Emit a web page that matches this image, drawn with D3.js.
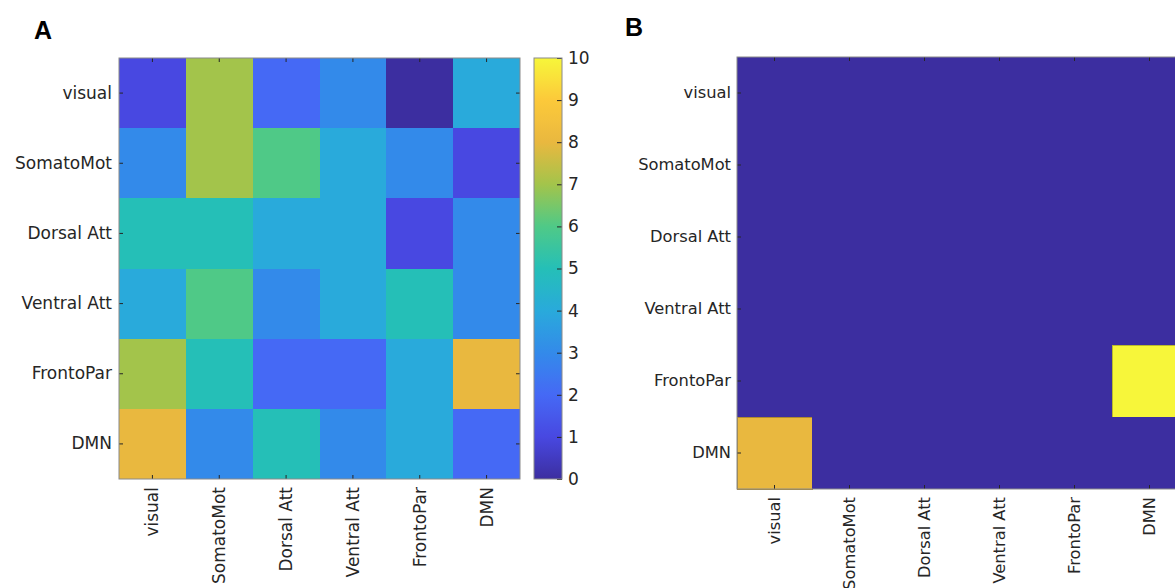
<!DOCTYPE html>
<html><head><meta charset="utf-8">
<script src="https://cdn.jsdelivr.net/npm/d3@7"></script>
<style>body{margin:0;background:#fff}svg{display:block}</style></head>
<body><svg id="c" width="1175" height="588"></svg>
<script>
const categories = ["visual", "SomatoMot", "Dorsal Att", "Ventral Att", "FrontoPar", "DMN"];
// rows = y categories (top to bottom), columns = x categories (left to right)
const valuesA = [
  [1, 7, 2, 3, 0, 4],
  [3, 7, 6, 4, 3, 1],
  [5, 5, 4, 4, 1, 3],
  [4, 6, 3, 4, 5, 3],
  [7, 5, 2, 2, 4, 8],
  [8, 3, 5, 3, 4, 2]
];
const valuesB = [
  [0, 0, 0, 0, 0, 0],
  [0, 0, 0, 0, 0, 0],
  [0, 0, 0, 0, 0, 0],
  [0, 0, 0, 0, 0, 0],
  [0, 0, 0, 0, 0, 10],
  [8, 0, 0, 0, 0, 0]
];
const colorTicks = [0, 1, 2, 3, 4, 5, 6, 7, 8, 9, 10];
// parula-like colour at each integer value 0..10
const parulaStops = ["#3c2ea0", "#4848e1", "#4569f5", "#338aea", "#29aadb", "#25bfb7",
                     "#4fc987", "#a3c44b", "#e9b83f", "#fcc93a", "#f7f63a"];

const svg = d3.select("#c");
svg.append("rect").attr("width", 1175).attr("height", 588).attr("fill", "#fff");
const color = d3.scaleLinear().domain(colorTicks).range(parulaStops).interpolate(d3.interpolateRgb);
const txt = "#262626";
const fontFam = "'DejaVu Sans', sans-serif";

function panel(cfg) {
  const g = svg.append("g");
  const x = d3.scaleBand().domain(categories).range([cfg.x0, cfg.x1]).padding(0);
  const y = d3.scaleBand().domain(categories).range([cfg.y0, cfg.y1]).padding(0);
  const cells = [];
  cfg.values.forEach((row, i) => row.forEach((v, j) => cells.push({r: categories[i], c: categories[j], v})));
  g.selectAll("rect.cell").data(cells).join("rect")
    .attr("class", "cell")
    .attr("x", d => x(d.c)).attr("y", d => y(d.r))
    .attr("width", x.bandwidth()).attr("height", y.bandwidth())
    .attr("fill", d => color(d.v))
    .attr("shape-rendering", "crispEdges")
    .attr("stroke", d => cfg.outline && d.v > 0 ? d3.color(color(d.v)).darker(0.8) : "none")
    .attr("stroke-width", 1);

  const styleAxis = (sel) => {
    sel.select(".domain").remove();
    sel.selectAll(".tick line").attr("stroke", txt);
    sel.selectAll(".tick text").attr("fill", txt).style("font-family", fontFam).style("font-size", cfg.font + "px");
  };
  g.append("g").attr("transform", `translate(${cfg.x0},0)`)
    .call(d3.axisLeft(y).tickSizeInner(-4).tickSizeOuter(0).tickPadding(cfg.pad)).call(styleAxis);
  g.append("g").attr("transform", `translate(${cfg.x1},0)`)
    .call(d3.axisRight(y).tickSizeInner(-4).tickSizeOuter(0).tickFormat("")).call(styleAxis);
  g.append("g").attr("transform", `translate(0,${cfg.y0})`)
    .call(d3.axisTop(x).tickSizeInner(-4).tickSizeOuter(0).tickFormat("")).call(styleAxis);
  const bx = g.append("g").attr("transform", `translate(0,${cfg.y1})`)
    .call(d3.axisBottom(x).tickSizeInner(-4).tickSizeOuter(0)).call(styleAxis);
  bx.selectAll(".tick text")
    .attr("transform", "rotate(-90)")
    .attr("text-anchor", "end")
    .attr("x", -8).attr("y", 0).attr("dy", "0.35em");

  g.append("rect").attr("x", cfg.x0).attr("y", cfg.y0)
    .attr("width", cfg.x1 - cfg.x0).attr("height", cfg.y1 - cfg.y0)
    .attr("fill", "none").attr("stroke", "#8a8a8a").attr("stroke-width", 1);

  svg.append("text").attr("x", cfg.lx).attr("y", cfg.ly).text(cfg.letter)
    .style("font-family", "'Liberation Sans', Arial, sans-serif").style("font-weight", "bold")
    .style("font-size", "25px").attr("fill", "#000");
}

panel({values: valuesA, x0: 119, x1: 520, y0: 58, y1: 479, font: 17, pad: 7, letter: "A", lx: 34, ly: 39, outline: false});
panel({values: valuesB, x0: 737, x1: 1187, y0: 57, y1: 489, font: 16.3, pad: 6, letter: "B", lx: 625, ly: 36, outline: true});

// colorbar
const cb = {x0: 534, x1: 562, y0: 58, y1: 479};
const yc = d3.scaleLinear().domain([0, 10]).range([cb.y1, cb.y0]);
const defs = svg.append("defs");
const grad = defs.append("linearGradient").attr("id", "cbgrad")
  .attr("x1", 0).attr("y1", 1).attr("x2", 0).attr("y2", 0);
grad.selectAll("stop").data(d3.range(0, 10.01, 0.25)).join("stop")
  .attr("offset", d => d / 10).attr("stop-color", d => color(d));
svg.append("rect").attr("x", cb.x0).attr("y", cb.y0)
  .attr("width", cb.x1 - cb.x0).attr("height", cb.y1 - cb.y0)
  .attr("fill", "url(#cbgrad)");
const cax = svg.append("g").attr("transform", `translate(${cb.x1},0)`)
  .call(d3.axisRight(yc).tickValues(colorTicks).tickSizeInner(-5).tickSizeOuter(0).tickPadding(6).tickFormat(d3.format("d")));
cax.select(".domain").remove();
cax.selectAll(".tick line").attr("stroke", txt);
cax.selectAll(".tick text").attr("fill", txt).style("font-family", fontFam).style("font-size", "17px");
svg.append("rect").attr("x", cb.x0).attr("y", cb.y0)
  .attr("width", cb.x1 - cb.x0).attr("height", cb.y1 - cb.y0)
  .attr("fill", "none").attr("stroke", "#8a8a8a").attr("stroke-width", 1);
</script>
</body></html>
